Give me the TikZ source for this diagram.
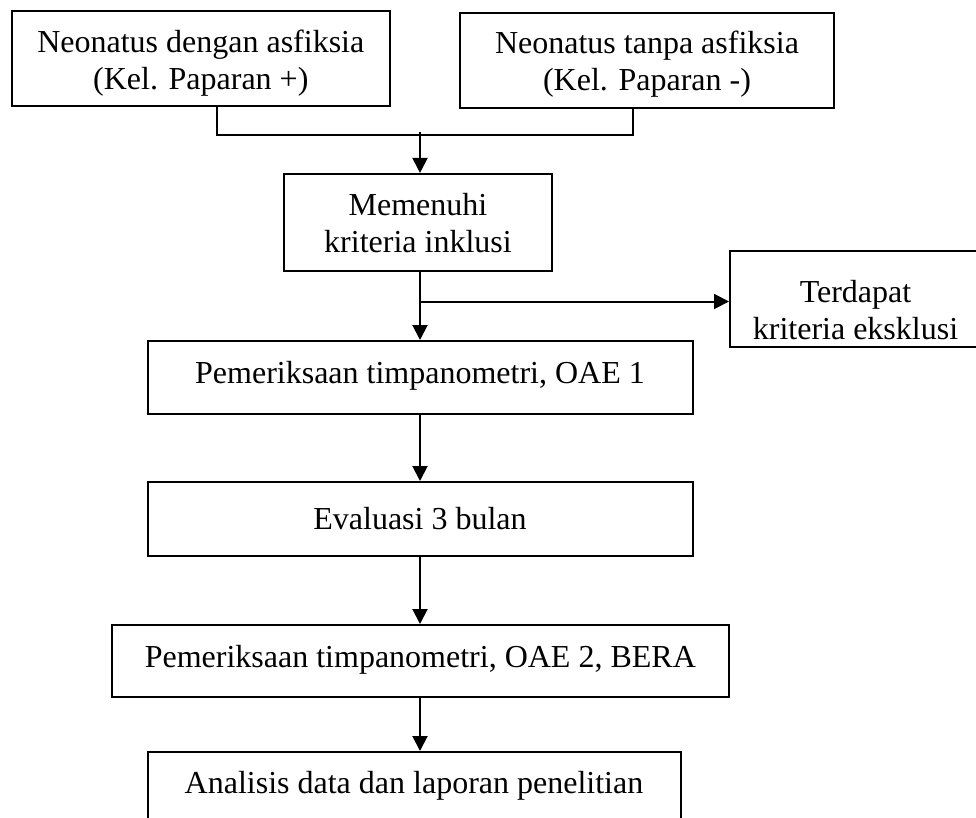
\documentclass[tikz,border=0pt]{standalone}
\usepackage{fontspec}
\setmainfont{Liberation Serif}
\usetikzlibrary{arrows.meta,calc}
\begin{document}
\begin{tikzpicture}[x=1pt,y=-1pt,
  box/.style={draw,line width=2pt,rectangle,inner sep=0pt},
  lbl/.style={inner sep=0pt,align=center,font=\fontsize{32}{37}\selectfont},
  conn/.style={line width=2pt},
  arr/.style={line width=2pt,-{Triangle[length=15pt,width=15pt]}}]
\useasboundingbox (0,0) rectangle (976,818);
\clip (0,0) rectangle (976,818);
% boxes
\node[box,minimum width=378pt,minimum height=95pt] (a) at (200.8,58.5) {};
\node[box,minimum width=374pt,minimum height=95pt] (b) at (647,60.5) {};
\node[box,minimum width=268pt,minimum height=97.5pt] (c) at (418,222.7) {};
\node[box,minimum width=251pt,minimum height=96pt] (e) at (855.5,299) {};
\node[box,minimum width=545pt,minimum height=73pt] (d) at (420,377.5) {};
\node[box,minimum width=545pt,minimum height=74pt] (f) at (420,519) {};
\node[box,minimum width=617pt,minimum height=72pt] (g) at (420.3,661) {};
\node[box,minimum width=533pt,minimum height=78pt] (h) at (414,791) {};
% labels
\node[lbl] (at) at ($(a.center)+(0,4.5)$) {Neonatus dengan asfiksia\\(Kel. Paparan +)};
\node[lbl] (bt) at ($(b.center)+(0,3.5)$) {Neonatus tanpa asfiksia\\(Kel. Paparan -)};
\node[lbl] (ct) at (c.center) {Memenuhi\\kriteria inklusi};
\node[lbl] (et) at ($(e.center)+(0,11)$) {Terdapat\\kriteria eksklusi};
\node[lbl] (dt) at ($(d.center)+(0,-2)$) {Pemeriksaan timpanometri, OAE 1};
\node[lbl] (ft) at (f.center) {Evaluasi 3 bulan};
\node[lbl] (gt) at ($(g.center)+(0,-1.5)$) {Pemeriksaan timpanometri, OAE 2, BERA};
\node[lbl] (ht) at ($(h.center)+(0,-5.5)$) {Analisis data dan laporan penelitian};
% connectors
\coordinate (j) at (420,135);
\coordinate (k) at (420,301.5);
\draw[conn] ([xshift=15.7pt]a.south) |- (j);
\draw[conn] ([xshift=-14pt]b.south) |- (j);
\draw[arr] ([yshift=3pt]j) -- (c.north -| j);
\draw[arr] (c.south -| j) -- (d.north -| j);
\draw[arr] (k) -- (k -| e.west);
\draw[arr] (d.south) -- (f.north);
\draw[arr] (f.south) -- (g.north -| f.south);
\draw[arr] (g.south -| f.south) -- (h.north -| f.south);
\end{tikzpicture}
\end{document}
